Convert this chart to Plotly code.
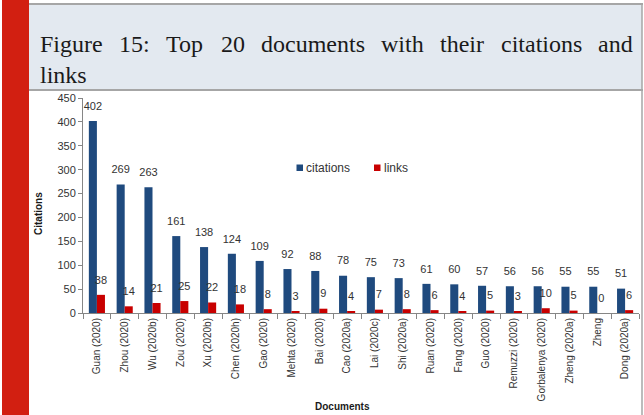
import plotly.graph_objects as go

documents = ["Guan (2020)", "Zhou (2020)", "Wu (2020b)", "Zou (2020)", "Xu (2020b)",
             "Chen (2020h)", "Gao (2020)", "Mehta (2020)", "Bai (2020)", "Cao (2020a)",
             "Lai (2020c)", "Shi (2020a)", "Ruan (2020)", "Fang (2020)", "Guo (2020)",
             "Remuzzi (2020)", "Gorbalenya (2020)", "Zheng (2020a)", "Zheng", "Dong (2020a)"]
citations = [402, 269, 263, 161, 138, 124, 109, 92, 88, 78, 75, 73, 61, 60, 57, 56, 56, 55, 55, 51]
links = [38, 14, 21, 25, 22, 18, 8, 3, 9, 4, 7, 8, 6, 4, 5, 3, 10, 5, 0, 6]

title_line1 = ["Figure", "15:", "Top", "20", "documents", "with", "their", "citations", "and"]
title_line2 = "links"

W, H = 644, 415
L, R, T, B = 83, 639, 98, 313

def px(x):
    return (x - L) / (R - L)

def py(y):
    return (B - y) / (B - T)

BLUE = "#1F4A7E"
RED = "#C80000"
FONT = "Liberation Sans"
GAP = 0.42

fig = go.Figure()
fig.add_trace(go.Bar(x=documents, y=citations, name="citations", marker_color=BLUE,
                     marker_line_width=0, offsetgroup="c", alignmentgroup="g"))
fig.add_trace(go.Bar(x=documents, y=links, name="links", marker_color=RED,
                     marker_line_width=0, offsetgroup="l", alignmentgroup="g"))
# value labels, placed over the bars via grouped scatter positioning
for vals, grp in ((citations, "c"), (links, "l")):
    fig.add_trace(go.Scatter(x=documents, y=vals, mode="markers+text", text=[str(v) for v in vals],
                             textposition="top center", orientation="v",
                             offsetgroup=grp, alignmentgroup="s",
                             marker=dict(size=12, opacity=0), hoverinfo="skip", cliponaxis=False,
                             textfont=dict(family=FONT, size=11, color="#333333"), showlegend=False))

shapes = []
shapes.append(dict(type="rect", xref="paper", yref="paper", x0=px(2), x1=px(29), y0=py(0), y1=py(415),
                   fillcolor="#D21F11", line_width=0, layer="below"))
shapes.append(dict(type="rect", xref="paper", yref="paper", x0=px(29), x1=px(642), y0=py(4), y1=py(90),
                   fillcolor="#E3E9F0", line_width=0, layer="below"))
shapes.append(dict(type="line", xref="paper", yref="paper", x0=px(29), x1=px(643), y0=py(4), y1=py(4),
                   line=dict(color="#A6A6A6", width=2)))
shapes.append(dict(type="line", xref="paper", yref="paper", x0=px(29), x1=px(643), y0=py(90), y1=py(90),
                   line=dict(color="#A6A6A6", width=2)))
shapes.append(dict(type="line", xref="paper", yref="paper", x0=px(642), x1=px(642), y0=py(4), y1=py(415),
                   line=dict(color="#A6A6A6", width=1.5)))
shapes.append(dict(type="rect", xref="paper", yref="paper", x0=px(296.5), x1=px(303), y0=py(164.5), y1=py(171),
                   fillcolor=BLUE, line_width=0))
shapes.append(dict(type="rect", xref="paper", yref="paper", x0=px(374), x1=px(380.5), y0=py(164.5), y1=py(171),
                   fillcolor=RED, line_width=0))

annotations = []
# justified title line: word widths from Times/Liberation Serif metrics (em units)
TSIZE = 24
em_widths = [2.611, 1.278, 1.611, 1.0, 4.333, 1.778, 1.833, 3.389, 1.444]
left, right = 38, 631
total = sum(em_widths) * TSIZE
gap = (right - left - total) / (len(title_line1) - 1)
xpos = left
for i, w in enumerate(title_line1):
    annotations.append(dict(text=w, x=px(xpos), y=py(44), xref="paper", yref="paper", xanchor="left",
                            yanchor="middle", showarrow=False,
                            font=dict(family="Liberation Serif", size=TSIZE, color="#1A1A1A")))
    xpos += em_widths[i] * TSIZE + gap
annotations.append(dict(text=title_line2, x=px(38), y=py(75), xref="paper", yref="paper", xanchor="left",
                        yanchor="middle", showarrow=False,
                        font=dict(family="Liberation Serif", size=TSIZE, color="#1A1A1A")))
annotations.append(dict(text="<b>Citations</b>", x=px(38), y=py(214), xref="paper", yref="paper",
                        textangle=-90, showarrow=False, xanchor="center", yanchor="middle",
                        font=dict(family=FONT, size=10, color="#1A1A1A")))
annotations.append(dict(text="<b>Documents</b>", x=px(342), y=py(406), xref="paper", yref="paper",
                        showarrow=False, xanchor="center", yanchor="middle",
                        font=dict(family=FONT, size=10, color="#1A1A1A")))
annotations.append(dict(text="citations", x=px(304), y=py(168), xref="paper", yref="paper",
                        showarrow=False, xanchor="left", yanchor="middle",
                        font=dict(family=FONT, size=12, color="#333333")))
annotations.append(dict(text="links", x=px(382), y=py(168), xref="paper", yref="paper",
                        showarrow=False, xanchor="left", yanchor="middle",
                        font=dict(family=FONT, size=12, color="#333333")))

fig.update_layout(
    width=W, height=H,
    margin=dict(l=L, r=W - R, t=T, b=H - B, pad=0),
    paper_bgcolor="white", plot_bgcolor="white",
    barmode="group", bargap=GAP, bargroupgap=0,
    scattermode="group", scattergap=GAP,
    showlegend=False,
    font=dict(family=FONT, color="#333333"),
    shapes=shapes, annotations=annotations,
    xaxis=dict(type="category", showline=True, linecolor="#868686", linewidth=1,
               ticks="outside", tickson="boundaries", ticklen=5, tickcolor="#868686",
               tickangle=-90, tickfont=dict(family=FONT, size=10, color="#333333"),
               showgrid=False, zeroline=False, fixedrange=True),
    yaxis=dict(range=[0, 450], dtick=50, showline=True, linecolor="#868686", linewidth=1,
               ticks="outside", ticklen=4, tickcolor="#868686",
               tickfont=dict(family=FONT, size=11, color="#333333"),
               showgrid=False, zeroline=False, fixedrange=True),
)

fig.write_html("out.html", config={"displayModeBar": False},
               post_script="document.body.style.margin='0';document.body.style.overflow='hidden';")
